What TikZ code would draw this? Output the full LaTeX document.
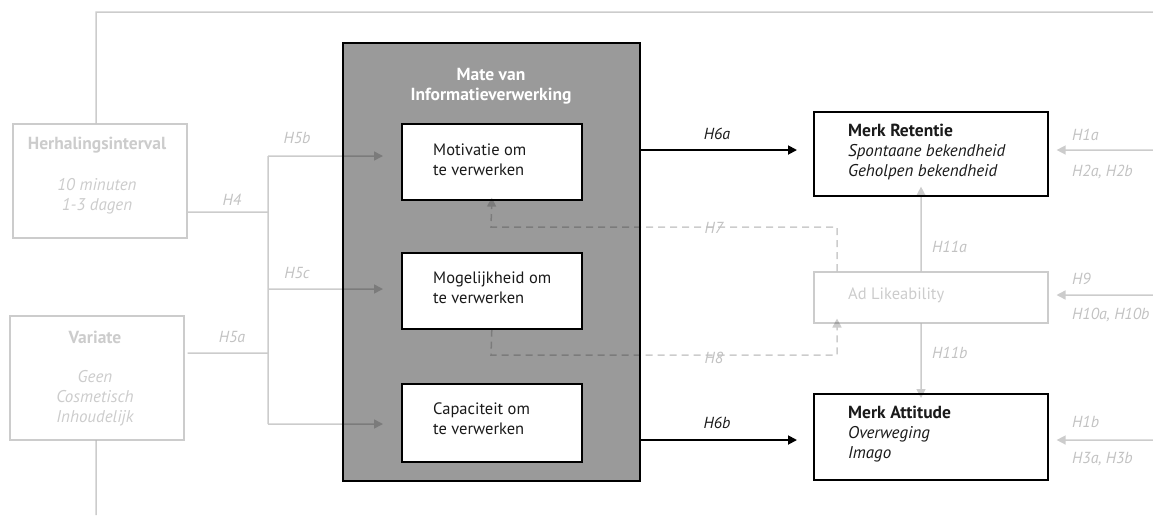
\documentclass[tikz,border=0pt]{standalone}
\usepackage{fontspec}
\setmainfont{PT Sans}
\usetikzlibrary{arrows.meta}
\definecolor{faint}{HTML}{CCCCCC}
\definecolor{faintText}{HTML}{C2C2C2}
\definecolor{panelGray}{HTML}{9A9A9A}
\definecolor{ink}{HTML}{1A1A1A}
\newcommand{\regfont}{\fontsize{16.5}{20}\selectfont}
\newcommand{\itfont}{\fontsize{17}{20}\selectfont\itshape}
\newcommand{\labfont}{\fontsize{16}{20}\selectfont\itshape}
\newcommand{\bfont}{\fontsize{17.5}{20}\selectfont\bfseries}
\tikzset{
  txt/.style={font=\regfont, inner sep=0pt, text=ink},
  hyp/.style={txt, font=\labfont, text=faintText},
  hypdark/.style={txt, font=\labfont},
  whitebox/.style={draw=black, line width=1.6pt, fill=white, anchor=north west, inner sep=0pt},
  greybox/.style={draw=faint, line width=1.5pt, anchor=north west, inner sep=0pt},
  conn/.style={draw=black, line width=1.5pt},
  tip/.style={-{Triangle[length=9pt,width=9pt]}},
  dashline/.style={conn, dash pattern=on 7pt off 5pt},
  strong/.style={draw=black, line width=1.8pt, -{Triangle[length=9pt,width=9pt]}},
}
\begin{document}
\begin{tikzpicture}[x=1pt,y=-1pt]
\useasboundingbox (0,0) rectangle (1153,515);

% outer panel: processing of information
\node[draw=black, line width=1.8pt, fill=panelGray, anchor=north west,
      minimum width=297pt, minimum height=438pt, inner sep=0pt] (panel) at (342,42) {};
\node[txt, text=white, font=\bfont, align=center]
      (panelT) at (491,86) {Mate van\\Informatieverwerking};

% three processing boxes
\node[whitebox, minimum width=180pt, minimum height=76pt] (mot) at (401,123) {};
\node[whitebox, minimum width=180pt, minimum height=76pt] (mog) at (401,252) {};
\node[whitebox, minimum width=180pt, minimum height=78pt] (cap) at (401,383) {};
\node[txt, anchor=west, align=left] (motT) at (433,160) {Motivatie om\\te verwerken};
\node[txt, anchor=west, align=left] (mogT) at (433,288) {Mogelijkheid om\\te verwerken};
\node[txt, anchor=west, align=left] (capT) at (433,419) {Capaciteit om\\te verwerken};

% outcome boxes
\node[whitebox, minimum width=234pt, minimum height=84pt] (ret) at (813,111) {};
\node[txt, anchor=west, align=left] (retT) at (848,152)
  {{\bfont Merk Retentie}\\{\itfont Spontaane bekendheid}\\{\itfont Geholpen bekendheid}};
\node[whitebox, minimum width=234pt, minimum height=86pt] (att) at (813,393) {};
\node[txt, anchor=west, align=left] (attT) at (848,434)
  {{\bfont Merk Attitude}\\{\itfont Overweging}\\{\itfont Imago}};

% faint boxes
\node[greybox, minimum width=234pt, minimum height=51pt] (ad) at (813,271) {};
\node[txt, anchor=west, text=faint] (adT) at (848,295) {Ad Likeability};
\node[greybox, minimum width=174pt, minimum height=114pt] (her) at (12,123) {};
\node[txt, text=faint, font=\bfont] (herT) at (97,145) {Herhalingsinterval};
\node[txt, text=faint, font=\itfont, align=center] (herS) at (97,196) {10 minuten\\1-3 dagen};
\node[greybox, minimum width=174pt, minimum height=124pt] (var) at (9,315) {};
\node[txt, text=faint, font=\bfont] (varT) at (95,337) {Variate};
\node[txt, text=faint, font=\itfont, align=center] (varS) at (95,398) {Geen\\Cosmetisch\\Inhoudelijk};

% connector anchor points
\coordinate (topL) at (96,12);
\coordinate (topR) at (1153,12);
\coordinate (botL) at (96,515);
\coordinate (jTop) at (268,156);
\coordinate (jH4) at (268,212);
\coordinate (jH5c) at (268,289);
\coordinate (jH5a) at (268,353);
\coordinate (jBot) at (268,424);
\coordinate (tipB) at (383,156);
\coordinate (tipC) at (383,289);
\coordinate (tipA) at (383,424);
\coordinate (h7a) at (837,227);
\coordinate (h7b) at (491,227);
\coordinate (h8a) at (491,355);
\coordinate (h8b) at (837,355);
\coordinate (r1) at (1153,150);
\coordinate (r2) at (1153,295);
\coordinate (r3) at (1153,440);
\coordinate (ax) at (921,0);

% faint connectors, composited once so crossings do not darken
\begin{scope}[transparency group, opacity=0.2]
  \draw[conn] (topL |- her.north) -- (topL) -- (topR);
  \draw[conn] (topL |- var.south) -- (botL);
  \draw[conn] ([xshift=0.5pt]her.east |- jH4) -- (jH4);
  \draw[conn] ([xshift=3pt]var.east |- jH5a) -- (jH5a);
  \draw[conn] (jBot) -- (jTop);
  \draw[conn, tip] (jTop) -- (tipB);
  \draw[conn, tip] (jH5c) -- (tipC);
  \draw[conn, tip] (jBot) -- (tipA);
  \draw[dashline, tip] (h7a |- ad.north) -- (h7a) -- (h7b) -- ([yshift=3pt]mot.south);
  \draw[dashline, tip] (mog.south) -- (h8a) -- (h8b) -- ([yshift=5pt]h8b |- ad.south);
  \draw[conn, tip] (ax |- ad.north) -- ([yshift=10pt]ax |- ret.south);
  \draw[conn, tip] (ax |- ad.south) -- ([yshift=-5pt]ax |- att.north);
  \draw[conn, tip] (r1) -- ([xshift=8pt]ret.east |- r1);
  \draw[conn, tip] (r2) -- ([xshift=8pt]ad.east |- r2);
  \draw[conn, tip] (r3) -- ([xshift=8pt]att.east |- r3);
\end{scope}

% hypothesised effects on the outcomes
\draw[strong] (panel.east |- r1) -- ([xshift=-16pt]ret.west |- r1);
\draw[strong] (panel.east |- r3) -- ([xshift=-16pt]att.west |- r3);

% hypothesis labels
\node[hyp] (lH5b) at (297,138) {H5b};
\node[hyp] (lH4) at (232,200) {H4};
\node[hyp] (lH5c) at (297,273) {H5c};
\node[hyp] (lH5a) at (232,337) {H5a};
\node[hypdark] (lH6a) at (717,134) {H6a};
\node[hypdark] (lH6b) at (717,423) {H6b};
\node[hyp] (lH7) at (714,228) {H7};
\node[hyp] (lH8) at (714,358) {H8};
\node[hyp, anchor=west] (lH11a) at (932,247) {H11a};
\node[hyp, anchor=west] (lH11b) at (932,353) {H11b};
\node[hyp, anchor=west] (lH1a) at (1072,135) {H1a};
\node[hyp, anchor=west] (lH2) at (1072,172) {H2a, H2b};
\node[hyp, anchor=west] (lH9) at (1072,279) {H9};
\node[hyp, anchor=west] (lH10) at (1072,315) {H10a, H10b};
\node[hyp, anchor=west] (lH1b) at (1072,422) {H1b};
\node[hyp, anchor=west] (lH3) at (1072,459) {H3a, H3b};
\end{tikzpicture}
\end{document}
